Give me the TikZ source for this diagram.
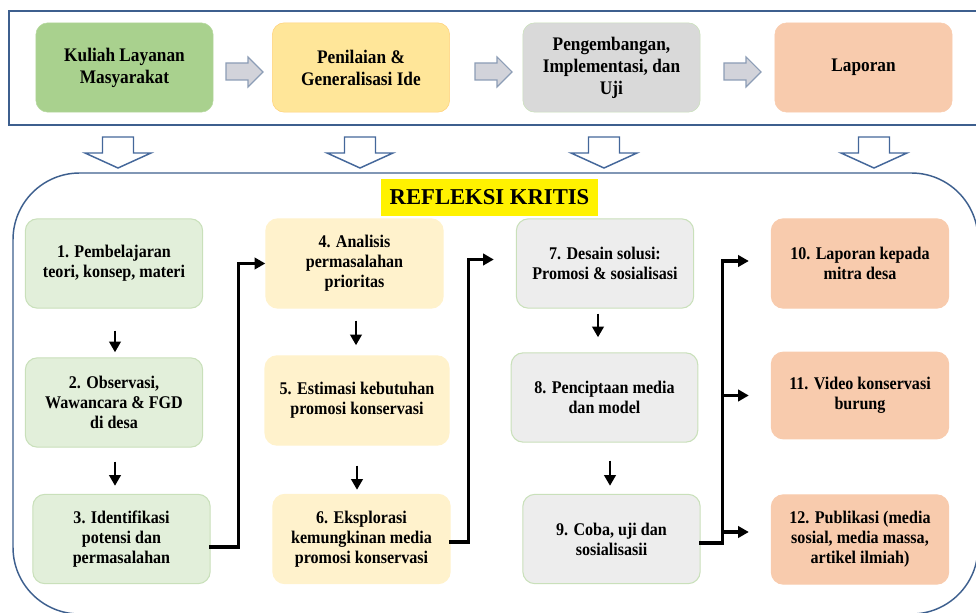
\documentclass[tikz,border=0pt]{standalone}
\usepackage{fontspec}
\setmainfont{Liberation Serif}
\newfontfamily\narrowserif{Liberation Serif}[FakeStretch=0.9]
\usetikzlibrary{arrows.meta,calc}

\definecolor{frameblue}{HTML}{3D5F8E}
\definecolor{hollowblue}{HTML}{44679A}
\definecolor{topgreen}{HTML}{A9D18E}
\definecolor{topyellow}{HTML}{FFE699}
\definecolor{topgray}{HTML}{D9D9D9}
\definecolor{toporange}{HTML}{F8CBAD}
\definecolor{grnfill}{HTML}{E2EFDA}
\definecolor{grnline}{HTML}{C9E0BA}
\definecolor{ylwfill}{HTML}{FFF2CC}
\definecolor{grayfill}{HTML}{EDEDED}
\definecolor{orgfill}{HTML}{F8CBAD}
\definecolor{arrowfill}{HTML}{D2D3DA}
\definecolor{arrowline}{HTML}{8C9DB6}

\begin{document}
\begin{tikzpicture}[x=0.75pt,y=-0.75pt,>={Triangle[length=8pt,width=8.5pt]},
  topbox/.style={rounded corners=9pt, minimum width=133pt, minimum height=67pt,
    align=center, inner sep=2pt, font=\narrowserif\fontsize{14.4}{16.5}\selectfont\bfseries},
  stepbox/.style={rounded corners=9pt, minimum width=133pt, minimum height=67pt,
    align=center, inner sep=2pt, line width=0.8pt, font=\narrowserif\fontsize{13.4}{15}\selectfont\bfseries},
  colA/.style={stepbox, fill=grnfill, draw=grnline},
  colB/.style={stepbox, fill=ylwfill, draw=ylwfill},
  colC/.style={stepbox, fill=grayfill, draw=grnline},
  colD/.style={stepbox, fill=orgfill, draw=orgfill},
  flow/.style={line width=2.4pt, line cap=rect},
  downflow/.style={->, line width=2.2pt},
  frameline/.style={draw=frameblue, line width=1.1pt},
  hollow/.style={draw=hollowblue, line width=1.1pt, fill=white, line join=miter},
  grayarrow/.style={draw=arrowline, line width=0.8pt, fill=arrowfill}]
\useasboundingbox (0,0) rectangle (976,613);

% frames
\draw[frameline] (9,11) rectangle (995,125);
\draw[frameline, rounded corners=50pt] (13,173) rectangle (978,614);

% top row
\node[topbox, fill=topgreen, draw=topgreen!85!white] (t1) at (124.5,67.5) {Kuliah Layanan\\Masyarakat};
\node[topbox, fill=topyellow, draw=topyellow!80!orange] (t2) at (361,67.5) {Penilaian \&\\Generalisasi Ide};
\node[topbox, fill=topgray, draw=grnline] (t3) at (611.5,67.5) {Pengembangan,\\Implementasi, dan\\Uji};
\node[topbox, fill=toporange, draw=toporange] (t4) at (863.5,67.5) {Laporan};

\foreach \ax in {226,475,724}
  \draw[grayarrow] (\ax,63) -- (\ax+22,63) -- (\ax+22,57) -- (\ax+37,72)
    -- (\ax+22,87) -- (\ax+22,80) -- (\ax,80) -- cycle;

\foreach \cx in {118,360,604,874}
  \draw[hollow] (\cx-15.5,137) -- (\cx+15.5,137) -- (\cx+15.5,153) -- (\cx+33,153)
    -- (\cx,168) -- (\cx-33,153) -- (\cx-15.5,153) -- cycle;

\node[fill=yellow, minimum width=163pt, minimum height=28pt, inner sep=0pt,
  font=\fontsize{17}{20}\selectfont\bfseries] (refl) at (489.5,197.5) {REFLEKSI KRITIS};

% steps
\node[colA] (b1) at (114,263.5) {1. Pembelajaran\\teori, konsep, materi};
\node[colA] (b2) at (114,402.5) {2. Observasi,\\Wawancara \& FGD\\di desa};
\node[colA] (b3) at (121.5,539) {3. Identifikasi\\potensi dan\\permasalahan};

\node[colB] (b4) at (354.5,263.5) {4. Analisis\\permasalahan\\prioritas};
\node[colB, minimum width=138pt] (b5) at (357,400.5) {5. Estimasi kebutuhan\\promosi konservasi};
\node[colB] (b6) at (361.5,539) {6. Eksplorasi\\kemungkinan media\\promosi konservasi};

\node[colC] (b7) at (605,263.5) {7. Desain solusi:\\Promosi \& sosialisasi};
\node[colC, minimum width=140pt] (b8) at (604.5,397.5) {8. Penciptaan media\\dan model};
\node[colC] (b9) at (611.5,539) {9. Coba, uji dan\\sosialisasii};

\node[colD] (b10) at (860,263.5) {10. Laporan kepada\\mitra desa};
\node[colD, minimum height=65pt] (b11) at (860,395.5) {11. Video konservasi\\burung};
\node[colD] (b12) at (860,539.5) {12. Publikasi (media\\sosial, media massa,\\artikel ilmiah)};

% arrows within a column
\foreach \a/\b/\dx/\s/\e in {b1/b2/1/22/5, b2/b3/1/14/8, b4/b5/1.5/12/10,
    b5/b6/0/20/4, b7/b8/-7/5/15, b8/b9/5.5/18/8}
  \draw[downflow] ($(\a.south)+(\dx,\s)$) -- ($(\a.south |- \b.north)+(\dx,-\e)$);

% arrows between columns
\draw[flow, ->] ($(b3.east)+(0,8)$) -- ++(28,0) |- (b4.west);
\draw[flow, ->] ($(b6.east)+(0,3)$) -- ++(18,0) |- ($(b7.west)+(-22,-4)$);
\coordinate (hub) at ($(b9.east)+(22,4)$);
\draw[flow] ($(b9.east)+(0,4)$) -- (hub);
\foreach \t/\dy in {b10/-2.5, b11/0, b12/-7.5}
  \draw[flow, ->] (hub) |- ($(\t.west)+(-22,\dy)$);
\end{tikzpicture}
\end{document}
